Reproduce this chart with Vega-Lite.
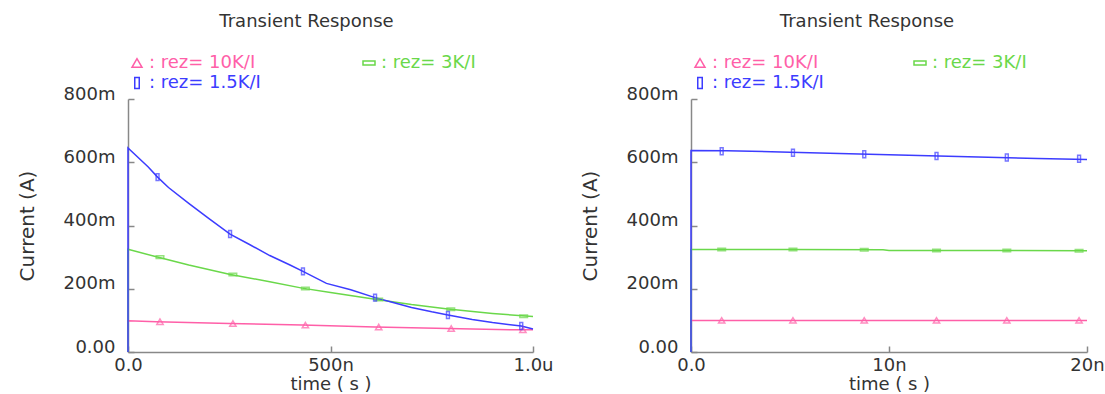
{
  "$schema": "https://vega.github.io/schema/vega-lite/v6.json",
  "background": "white",
  "padding": {"left": 17, "top": 13, "right": 0, "bottom": 0},
  "spacing": 26,
  "config": {
    "font": "DejaVu Sans",
    "view": {"stroke": null},
    "axis": {"domainColor": "#888888", "tickColor": "#888888", "labelColor": "#333333", "titleColor": "#333333", "labelFont": "DejaVu Sans", "titleFont": "DejaVu Sans", "labelFontSize": 18, "titleFontSize": 20, "titleFontWeight": "normal", "grid": false, "domainWidth": 1.5, "tickWidth": 1.5},
    "axisX": {"titleFontSize": 18},
    "title": {"font": "DejaVu Sans", "fontSize": 18, "fontWeight": "normal", "color": "#333333"},
    "legend": {"labelFont": "DejaVu Sans", "labelFontSize": 18}
  },
  "datasets": {
    "leftCurves": [
      {"series": "10K", "t": 0, "I": 0}, {"series": "10K", "t": 0, "I": 0.099}, {"series": "10K", "t": 70, "I": 0.096}, {"series": "10K", "t": 250, "I": 0.09}, {"series": "10K", "t": 430, "I": 0.085}, {"series": "10K", "t": 610, "I": 0.079}, {"series": "10K", "t": 790, "I": 0.074}, {"series": "10K", "t": 970, "I": 0.07}, {"series": "10K", "t": 1000, "I": 0.07},
      {"series": "3K", "t": 0, "I": 0}, {"series": "3K", "t": 0, "I": 0.325}, {"series": "3K", "t": 70, "I": 0.301}, {"series": "3K", "t": 150, "I": 0.275}, {"series": "3K", "t": 250, "I": 0.246}, {"series": "3K", "t": 350, "I": 0.222}, {"series": "3K", "t": 430, "I": 0.202}, {"series": "3K", "t": 500, "I": 0.188}, {"series": "3K", "t": 610, "I": 0.167}, {"series": "3K", "t": 700, "I": 0.15}, {"series": "3K", "t": 790, "I": 0.136}, {"series": "3K", "t": 900, "I": 0.122}, {"series": "3K", "t": 1000, "I": 0.112},
      {"series": "1.5K", "t": 0, "I": 0}, {"series": "1.5K", "t": 0, "I": 0.645}, {"series": "1.5K", "t": 50, "I": 0.585}, {"series": "1.5K", "t": 73, "I": 0.553}, {"series": "1.5K", "t": 100, "I": 0.52}, {"series": "1.5K", "t": 150, "I": 0.47}, {"series": "1.5K", "t": 200, "I": 0.422}, {"series": "1.5K", "t": 252, "I": 0.373}, {"series": "1.5K", "t": 300, "I": 0.34}, {"series": "1.5K", "t": 350, "I": 0.305}, {"series": "1.5K", "t": 400, "I": 0.275}, {"series": "1.5K", "t": 432, "I": 0.255}, {"series": "1.5K", "t": 490, "I": 0.217}, {"series": "1.5K", "t": 550, "I": 0.197}, {"series": "1.5K", "t": 610, "I": 0.172}, {"series": "1.5K", "t": 650, "I": 0.158}, {"series": "1.5K", "t": 700, "I": 0.141}, {"series": "1.5K", "t": 750, "I": 0.127}, {"series": "1.5K", "t": 790, "I": 0.117}, {"series": "1.5K", "t": 850, "I": 0.103}, {"series": "1.5K", "t": 900, "I": 0.093}, {"series": "1.5K", "t": 971, "I": 0.082}, {"series": "1.5K", "t": 1000, "I": 0.073}
    ],
    "leftMarkers": [
      {"series": "10K", "t": 79, "I": 0.096}, {"series": "10K", "t": 259, "I": 0.09}, {"series": "10K", "t": 438, "I": 0.085}, {"series": "10K", "t": 619, "I": 0.079}, {"series": "10K", "t": 798, "I": 0.074}, {"series": "10K", "t": 975, "I": 0.07},
      {"series": "3K", "t": 79, "I": 0.3}, {"series": "3K", "t": 259, "I": 0.245}, {"series": "3K", "t": 438, "I": 0.201}, {"series": "3K", "t": 619, "I": 0.166}, {"series": "3K", "t": 797, "I": 0.135}, {"series": "3K", "t": 977, "I": 0.113},
      {"series": "1.5K", "t": 73, "I": 0.553}, {"series": "1.5K", "t": 252, "I": 0.373}, {"series": "1.5K", "t": 432, "I": 0.255}, {"series": "1.5K", "t": 610, "I": 0.172}, {"series": "1.5K", "t": 790, "I": 0.117}, {"series": "1.5K", "t": 971, "I": 0.082}
    ],
    "rightCurves": [
      {"series": "10K", "t": 0, "I": 0}, {"series": "10K", "t": 0, "I": 0.1}, {"series": "10K", "t": 10, "I": 0.1}, {"series": "10K", "t": 20, "I": 0.1},
      {"series": "3K", "t": 0, "I": 0}, {"series": "3K", "t": 0, "I": 0.324}, {"series": "3K", "t": 5, "I": 0.324}, {"series": "3K", "t": 9.7, "I": 0.323}, {"series": "3K", "t": 10, "I": 0.321}, {"series": "3K", "t": 15, "I": 0.321}, {"series": "3K", "t": 20, "I": 0.32},
      {"series": "1.5K", "t": 0, "I": 0}, {"series": "1.5K", "t": 0, "I": 0.637}, {"series": "1.5K", "t": 1.8, "I": 0.636}, {"series": "1.5K", "t": 5, "I": 0.632}, {"series": "1.5K", "t": 7.5, "I": 0.628}, {"series": "1.5K", "t": 10, "I": 0.624}, {"series": "1.5K", "t": 12.5, "I": 0.62}, {"series": "1.5K", "t": 15, "I": 0.616}, {"series": "1.5K", "t": 17.5, "I": 0.612}, {"series": "1.5K", "t": 20, "I": 0.609}
    ],
    "rightMarkers": [
      {"series": "10K", "t": 1.55, "I": 0.1}, {"series": "10K", "t": 5.15, "I": 0.1}, {"series": "10K", "t": 8.75, "I": 0.1}, {"series": "10K", "t": 12.4, "I": 0.1}, {"series": "10K", "t": 15.95, "I": 0.1}, {"series": "10K", "t": 19.6, "I": 0.1},
      {"series": "3K", "t": 1.55, "I": 0.324}, {"series": "3K", "t": 5.15, "I": 0.324}, {"series": "3K", "t": 8.75, "I": 0.323}, {"series": "3K", "t": 12.4, "I": 0.321}, {"series": "3K", "t": 15.95, "I": 0.321}, {"series": "3K", "t": 19.6, "I": 0.32},
      {"series": "1.5K", "t": 1.55, "I": 0.635}, {"series": "1.5K", "t": 5.15, "I": 0.63}, {"series": "1.5K", "t": 8.75, "I": 0.625}, {"series": "1.5K", "t": 12.4, "I": 0.62}, {"series": "1.5K", "t": 15.95, "I": 0.615}, {"series": "1.5K", "t": 19.6, "I": 0.611}
    ]
  },
  "resolve": {"scale": {"color": "independent", "shape": "independent"}, "legend": {"color": "independent", "shape": "independent"}},
  "hconcat": [
    {
      "width": 405,
      "height": 253,
      "title": {"text": "Transient Response", "dx": -24, "offset": 23},
      "layer": [
        {
          "data": {"name": "leftCurves"},
          "mark": {"type": "line", "strokeWidth": 1.5},
          "encoding": {
            "x": {"field": "t", "type": "quantitative", "scale": {"domain": [0, 1000], "nice": false, "zero": false}, "axis": {"values": [0, 500, 1000], "labelExpr": "datum.value==0?'0.0':datum.value==500?'500n':'1.0u'", "tickSize": -6, "labelPadding": 10, "labelFlush": false, "title": "time ( s )", "titlePadding": 1}},
            "y": {"field": "I", "type": "quantitative", "scale": {"domain": [0, 0.8], "nice": false}, "axis": {"values": [0, 0.2, 0.4, 0.6, 0.8], "labelExpr": "datum.value==0?'0.00':format(datum.value*1000,'d')+'m'", "tickSize": -6, "labelPadding": 19, "labelBaseline": "alphabetic", "title": "Current (A)", "titlePadding": 26}},
            "color": {"field": "series", "type": "nominal", "scale": {"domain": ["10K", "3K", "1.5K"], "range": ["#ff5fa8", "#6ad84a", "#3c3cff"]}, "legend": {"orient": "top", "direction": "horizontal", "columns": 2, "title": null, "columnPadding": 99, "rowPadding": 2, "offset": 7, "labelOffset": 3, "labelExpr": "': rez= ' + datum.value + '/I'", "encode": {"labels": {"update": {"fill": {"signal": "datum.value=='10K'?'#ff5fa8':datum.value=='3K'?'#6ad84a':'#3c3cff'"}}}}}},
            "order": {"value": null}
          }
        },
        {
          "data": {"name": "leftMarkers"},
          "mark": {"type": "point", "filled": false, "strokeWidth": 1.5, "size": 40},
          "encoding": {
            "x": {"field": "t", "type": "quantitative"},
            "y": {"field": "I", "type": "quantitative"},
            "color": {"field": "series", "type": "nominal", "legend": {"orient": "top", "direction": "horizontal", "columns": 2, "title": null, "columnPadding": 99, "rowPadding": 2, "offset": 7, "labelOffset": 3, "labelExpr": "': rez= ' + datum.value + '/I'", "encode": {"labels": {"update": {"fill": {"signal": "datum.value=='10K'?'#ff5fa8':datum.value=='3K'?'#6ad84a':'#3c3cff'"}}}}}},
            "shape": {"field": "series", "type": "nominal", "scale": {"domain": ["10K", "3K", "1.5K"], "range": ["triangle-up", "M-1.2,-0.4H1.2V0.4H-1.2Z", "M-0.45,-1.1H0.45V1.1H-0.45Z"]}, "legend": {"orient": "top", "direction": "horizontal", "columns": 2, "title": null, "columnPadding": 99, "rowPadding": 2, "offset": 7, "labelOffset": 3, "labelExpr": "': rez= ' + datum.value + '/I'", "encode": {"labels": {"update": {"fill": {"signal": "datum.value=='10K'?'#ff5fa8':datum.value=='3K'?'#6ad84a':'#3c3cff'"}}}}}}
          }
        }
      ]
    },
    {
      "width": 396,
      "height": 253,
      "title": {"text": "Transient Response", "dx": -22, "offset": 23},
      "layer": [
        {
          "data": {"name": "rightCurves"},
          "mark": {"type": "line", "strokeWidth": 1.5},
          "encoding": {
            "x": {"field": "t", "type": "quantitative", "scale": {"domain": [0, 20], "nice": false, "zero": false}, "axis": {"values": [0, 10, 20], "labelExpr": "datum.value==0?'0.0':datum.value==10?'10n':'20n'", "tickSize": -6, "labelPadding": 10, "labelFlush": false, "title": "time ( s )", "titlePadding": 1}},
            "y": {"field": "I", "type": "quantitative", "scale": {"domain": [0, 0.8], "nice": false}, "axis": {"values": [0, 0.2, 0.4, 0.6, 0.8], "labelExpr": "datum.value==0?'0.00':format(datum.value*1000,'d')+'m'", "tickSize": -6, "labelPadding": 19, "labelBaseline": "alphabetic", "title": "Current (A)", "titlePadding": 26}},
            "color": {"field": "series", "type": "nominal", "scale": {"domain": ["10K", "3K", "1.5K"], "range": ["#ff5fa8", "#6ad84a", "#3c3cff"]}, "legend": {"orient": "top", "direction": "horizontal", "columns": 2, "title": null, "columnPadding": 87, "rowPadding": 2, "offset": 7, "labelOffset": 3, "labelExpr": "': rez= ' + datum.value + '/I'", "encode": {"labels": {"update": {"fill": {"signal": "datum.value=='10K'?'#ff5fa8':datum.value=='3K'?'#6ad84a':'#3c3cff'"}}}}}},
            "order": {"value": null}
          }
        },
        {
          "data": {"name": "rightMarkers"},
          "mark": {"type": "point", "filled": false, "strokeWidth": 1.5, "size": 40},
          "encoding": {
            "x": {"field": "t", "type": "quantitative"},
            "y": {"field": "I", "type": "quantitative"},
            "color": {"field": "series", "type": "nominal", "legend": {"orient": "top", "direction": "horizontal", "columns": 2, "title": null, "columnPadding": 87, "rowPadding": 2, "offset": 7, "labelOffset": 3, "labelExpr": "': rez= ' + datum.value + '/I'", "encode": {"labels": {"update": {"fill": {"signal": "datum.value=='10K'?'#ff5fa8':datum.value=='3K'?'#6ad84a':'#3c3cff'"}}}}}},
            "shape": {"field": "series", "type": "nominal", "scale": {"domain": ["10K", "3K", "1.5K"], "range": ["triangle-up", "M-1.2,-0.4H1.2V0.4H-1.2Z", "M-0.45,-1.1H0.45V1.1H-0.45Z"]}, "legend": {"orient": "top", "direction": "horizontal", "columns": 2, "title": null, "columnPadding": 87, "rowPadding": 2, "offset": 7, "labelOffset": 3, "labelExpr": "': rez= ' + datum.value + '/I'", "encode": {"labels": {"update": {"fill": {"signal": "datum.value=='10K'?'#ff5fa8':datum.value=='3K'?'#6ad84a':'#3c3cff'"}}}}}}
          }
        }
      ]
    }
  ]
}
